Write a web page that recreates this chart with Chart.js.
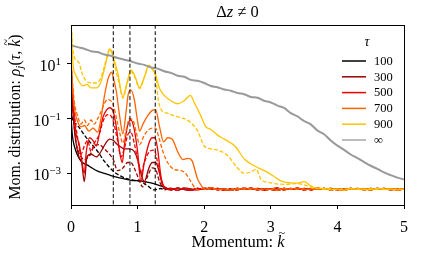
<!DOCTYPE html>
<html>
<head>
<meta charset="utf-8">
<script src="https://cdn.jsdelivr.net/npm/chart.js@4.4.1/dist/chart.umd.min.js"></script>
<style>
  html, body { margin: 0; padding: 0; background: #fff; }
</style>
</head>
<body>
<canvas id="chart" width="421" height="257"></canvas>
<script>
const SERIF = "'Liberation Serif', 'DejaVu Serif', serif";

// axis ranges and ticks
const yMin = 7.4e-5;
const yMax = 263;
const xTickValues = [0, 1, 2, 3, 4, 5];
const yTickValues = [1e-3, 1e-1, 1e1];
const yTickExps = ["\u22123", "\u22121", "1"];
const markK = [0.635, 0.885, 1.265];

const tauLabels = ["100", "300", "500", "700", "900", "\u221e"];
const tauColors = ["#000000", "#990000", "#ee0000", "#ff6400", "#ffc400", "#a6a6a6"];

// noise floor reached by every finite-tau curve
const floorK = [1.4, 1.5, 1.6, 1.7, 1.8, 1.9, 2.0, 2.1, 2.2, 2.3, 2.4, 2.5, 2.6, 2.7, 2.8, 2.9, 3.0, 3.1, 3.2, 3.3, 3.4, 3.5, 3.6, 3.7, 3.8, 3.9, 4.0, 4.1, 4.2, 4.3, 4.4, 4.5, 4.6, 4.7, 4.8, 4.9, 5.0];
const floorA = [2.8e-4, 2.5e-4, 2.9e-4, 2.6e-4, 2.4e-4, 2.8e-4, 2.6e-4, 3.0e-4, 2.5e-4, 2.7e-4, 2.4e-4, 2.8e-4, 2.6e-4, 2.9e-4, 2.5e-4, 2.7e-4, 2.6e-4, 2.4e-4, 2.8e-4, 2.6e-4, 2.9e-4, 2.5e-4, 2.7e-4, 2.6e-4, 2.8e-4, 2.5e-4, 2.7e-4, 2.4e-4, 2.8e-4, 2.6e-4, 2.7e-4, 2.5e-4, 2.8e-4, 2.6e-4, 2.7e-4, 2.5e-4, 2.7e-4];
const floorB = [2.5e-4, 2.8e-4, 2.4e-4, 2.9e-4, 2.7e-4, 2.5e-4, 2.9e-4, 2.6e-4, 2.8e-4, 2.4e-4, 2.7e-4, 2.5e-4, 2.9e-4, 2.6e-4, 2.8e-4, 2.4e-4, 2.7e-4, 2.9e-4, 2.5e-4, 2.8e-4, 2.6e-4, 2.8e-4, 2.5e-4, 2.9e-4, 2.6e-4, 2.8e-4, 2.5e-4, 2.7e-4, 2.6e-4, 2.8e-4, 2.5e-4, 2.8e-4, 2.6e-4, 2.8e-4, 2.5e-4, 2.7e-4, 2.6e-4];

// tau = 100
const k100s = [0, 0.02, 0.05, 0.1, 0.15, 0.2, 0.25, 0.3, 0.4, 0.5, 0.6, 0.7, 0.8, 0.9, 1.0, 1.1, 1.2, 1.3, 1.4];
const p100s = [0.126, 0.025, 0.01, 0.0045, 0.0028, 0.00224, 0.002, 0.00166, 0.0012, 0.001, 8.3e-4, 7.1e-4, 6.3e-4, 5.6e-4, 5.4e-4, 5.0e-4, 4.5e-4, 3.8e-4, 3.2e-4];
const k100d = [0, 0.03, 0.08, 0.11, 0.2, 0.3, 0.4, 0.5, 0.635, 0.75, 0.85, 0.95, 1.05, 1.15, 1.25, 1.35];
const p100d = [0.2, 0.079, 0.063, 0.052, 0.025, 0.0126, 0.0063, 0.0028, 0.0012, 7.9e-4, 6.3e-4, 5.6e-4, 5.0e-4, 3.5e-4, 2.5e-4, 2.8e-4];

// tau = 300
const k300s = [0, 0.03, 0.07, 0.12, 0.16, 0.2, 0.24, 0.3, 0.38, 0.45, 0.52, 0.58, 0.635, 0.7, 0.8, 0.88, 0.95, 1.0, 1.05, 1.1, 1.17, 1.22, 1.27, 1.32, 1.37, 1.42];
const p300s = [7.94, 0.158, 0.0158, 0.004, 0.0025, 5.0e-4, 0.004, 0.005, 0.004, 0.0063, 0.0126, 0.0178, 0.0158, 0.0112, 0.0079, 0.0079, 0.0063, 0.0032, 0.001, 5.0e-4, 0.00158, 0.0025, 0.0025, 0.00126, 4.0e-4, 2.8e-4];
const k300d = [0, 0.04, 0.08, 0.13, 0.2, 0.28, 0.35, 0.42, 0.5, 0.58, 0.635, 0.7, 0.78, 0.85, 0.9, 0.95, 1.0, 1.08, 1.15, 1.22, 1.27, 1.33, 1.4];
const p300d = [7.94, 0.1, 0.0126, 0.005, 0.0032, 0.0045, 0.01, 0.0112, 0.0079, 0.005, 0.0032, 0.00126, 0.00158, 0.0025, 0.0025, 0.00158, 7.9e-4, 3.2e-4, 7.9e-4, 0.00158, 0.00141, 5.0e-4, 2.8e-4];

// tau = 500
const k500s = [0, 0.02, 0.05, 0.08, 0.12, 0.16, 0.2, 0.23, 0.28, 0.33, 0.38, 0.43, 0.48, 0.53, 0.58, 0.635, 0.68, 0.73, 0.77, 0.8, 0.85, 0.9, 0.95, 1.0, 1.05, 1.1, 1.17, 1.22, 1.26, 1.3, 1.35, 1.4];
const p500s = [10, 1.0, 0.1, 0.025, 0.0126, 0.0032, 0.001, 0.0063, 0.02, 0.0158, 0.01, 0.0316, 0.112, 0.2, 0.25, 0.178, 0.05, 0.0063, 0.0025, 0.01, 0.056, 0.089, 0.04, 0.0063, 5.0e-4, 0.0025, 0.0126, 0.02, 0.02, 0.0079, 7.9e-4, 3.2e-4];
const k500d = [0, 0.05, 0.1, 0.15, 0.2, 0.25, 0.3, 0.35, 0.42, 0.48, 0.55, 0.6, 0.635, 0.7, 0.75, 0.8, 0.86, 0.9, 0.95, 1.0, 1.05, 1.1, 1.18, 1.25, 1.3, 1.35, 1.4];
const p500d = [10, 0.158, 0.02, 0.005, 0.01, 0.0158, 0.0063, 0.0126, 0.025, 0.079, 0.141, 0.126, 0.079, 0.0158, 0.004, 0.0079, 0.028, 0.0316, 0.0126, 0.0032, 0.001, 0.0025, 0.0063, 0.0071, 0.0025, 6.3e-4, 3.2e-4];

// tau = 700
const k700s = [0, 0.02, 0.05, 0.1, 0.15, 0.2, 0.27, 0.33, 0.4, 0.45, 0.5, 0.55, 0.58, 0.61, 0.635, 0.68, 0.73, 0.78, 0.82, 0.86, 0.9, 0.95, 1.0, 1.03, 1.08, 1.15, 1.22, 1.27, 1.33, 1.39, 1.45, 1.52, 1.6, 1.68, 1.76, 1.82, 1.9, 1.97];
const p700s = [15.8, 2.0, 0.25, 0.079, 0.05, 0.056, 0.035, 0.045, 0.032, 0.1, 0.63, 2.51, 3.98, 5.0, 3.16, 1.0, 0.126, 0.028, 0.126, 0.79, 1.12, 0.5, 0.079, 0.035, 0.063, 0.126, 0.2, 0.214, 0.05, 0.0141, 0.02, 0.0178, 0.0063, 0.0032, 0.00355, 0.0028, 6.3e-4, 3.2e-4];
const k700d = [0, 0.02, 0.05, 0.1, 0.15, 0.2, 0.25, 0.3, 0.35, 0.4, 0.45, 0.5, 0.55, 0.6, 0.635, 0.68, 0.73, 0.78, 0.83, 0.88, 0.93, 0.98, 1.03, 1.1, 1.17, 1.22, 1.27, 1.32, 1.38, 1.45, 1.55, 1.65, 1.72, 1.8, 1.87];
const p700d = [15.8, 2.51, 0.4, 0.126, 0.063, 0.089, 0.056, 0.089, 0.063, 0.1, 0.178, 0.355, 0.5, 0.447, 0.316, 0.112, 0.0316, 0.0126, 0.04, 0.1, 0.089, 0.0316, 0.0112, 0.025, 0.04, 0.045, 0.045, 0.02, 0.0063, 0.0025, 0.0014, 0.00126, 0.001, 5.0e-4, 2.8e-4];

// tau = 900
const k900s = [0, 0.03, 0.07, 0.12, 0.18, 0.24, 0.3, 0.38, 0.45, 0.5, 0.55, 0.58, 0.61, 0.635, 0.7, 0.78, 0.84, 0.9, 0.96, 1.03, 1.1, 1.17, 1.22, 1.27, 1.33, 1.4, 1.5, 1.6, 1.7, 1.79, 1.86, 1.95, 2.02, 2.1, 2.2, 2.31, 2.46, 2.61, 2.76, 2.96, 3.16, 3.3, 3.4, 3.5, 3.6, 3.7];
const p900s = [398, 10, 3.98, 2.24, 1.58, 1.78, 1.32, 1.32, 2.24, 6.31, 20, 35, 28, 17.8, 5.0, 0.63, 2.0, 6.0, 3.55, 1.35, 3.16, 8.9, 6.31, 3.98, 1.26, 0.71, 0.45, 0.35, 0.45, 0.71, 0.35, 0.126, 0.052, 0.04, 0.025, 0.0174, 0.01, 0.0032, 0.00186, 0.00107, 5.2e-4, 4.5e-4, 4.4e-4, 5.0e-4, 3.5e-4, 2.8e-4];
const k900d = [0, 0.03, 0.07, 0.12, 0.16, 0.22, 0.3, 0.38, 0.45, 0.5, 0.55, 0.58, 0.62, 0.66, 0.72, 0.78, 0.84, 0.9, 0.96, 1.03, 1.1, 1.17, 1.22, 1.27, 1.31, 1.36, 1.45, 1.55, 1.7, 1.8, 1.9, 2.0, 2.1, 2.2, 2.35, 2.5, 2.6, 2.7, 2.78, 2.85, 3.0, 3.2, 3.4, 3.55, 3.65];
const p900d = [398, 31.6, 14.1, 11.2, 5.0, 2.51, 2.0, 2.0, 3.16, 7.94, 22.4, 35.5, 22.4, 7.94, 2.0, 0.56, 1.78, 5.25, 3.16, 1.26, 3.16, 8.3, 7.08, 3.55, 0.5, 0.2, 0.158, 0.126, 0.1, 0.071, 0.0355, 0.01, 0.0079, 0.0071, 0.0045, 0.00158, 0.001, 0.00112, 0.00141, 6.3e-4, 4.5e-4, 4.0e-4, 4.2e-4, 3.5e-4, 2.8e-4];

// tau = infinity (noisy, read every 0.1)
const kInf = [0, 0.1, 0.2, 0.3, 0.4, 0.5, 0.6, 0.7, 0.8, 0.9, 1.0, 1.1, 1.2, 1.3, 1.4, 1.5, 1.6, 1.7, 1.8, 1.9, 2.0, 2.1, 2.2, 2.3, 2.4, 2.5, 2.6, 2.7, 2.8, 2.9, 3.0, 3.1, 3.2, 3.3, 3.4, 3.5, 3.6, 3.7, 3.8, 3.9, 4.0, 4.1, 4.2, 4.3, 4.4, 4.5, 4.6, 4.7, 4.8, 4.9, 5.0];
const pInf = [48, 41, 35.5, 29, 27, 22, 19.8, 16.4, 14.2, 12.4, 10.3, 9.2, 7.4, 6.7, 5.4, 4.7, 3.7, 3.4, 2.6, 2.4, 2.0, 1.55, 1.4, 1.15, 1.05, 0.86, 0.78, 0.62, 0.58, 0.45, 0.39, 0.3, 0.245, 0.16, 0.12, 0.082, 0.062, 0.037, 0.027, 0.016, 0.0103, 0.0072, 0.0049, 0.0036, 0.0026, 0.0019, 0.00145, 0.00108, 8.6e-4, 7.0e-4, 6.0e-4];

function series(ks, ps, floorVals) {
  const pts = ks.map((k, i) => ({ x: k, y: ps[i] }));
  if (floorVals) {
    const last = ks[ks.length - 1];
    floorK.forEach((k, i) => {
      if (k > last + 0.01) pts.push({ x: k, y: floorVals[i] });
    });
  }
  return pts;
}

function line(data, color, dash, width) {
  return {
    data,
    borderColor: color,
    borderWidth: width || 1.3,
    borderDash: dash || [],
    pointRadius: 0,
    fill: false,
    cubicInterpolationMode: "monotone",
  };
}

const DASH = [4, 2];
// listed from bottom to top
const datasets = [
  line(series(k100d, p100d, floorB), tauColors[0], DASH),
  line(series(k100s, p100s, floorA), tauColors[0]),
  line(series(k300d, p300d, floorB), tauColors[1], DASH),
  line(series(k300s, p300s, floorA), tauColors[1]),
  line(series(k500d, p500d, floorB), tauColors[2], DASH),
  line(series(k500s, p500s, floorA), tauColors[2]),
  line(series(k700d, p700d, floorB), tauColors[3], DASH),
  line(series(k700s, p700s, floorA), tauColors[3]),
  line(series(k900d, p900d, floorB), tauColors[4], DASH),
  line(series(k900s, p900s, floorA), tauColors[4]),
  line(series(kInf, pInf), "#999999", [], 2),
  ...markK.map((k) => line([{ x: k, y: yMin }, { x: k, y: yMax }], "#000000", [4, 2.5], 1)),
];
datasets.forEach((d, i) => { d.order = datasets.length - i; });

function fontFor(style, size) {
  return (style === "r" ? "" : "italic ") + size + "px " + SERIF;
}

// parts: [text, style]; r = roman, i = italic, s = italic subscript, t = italic with tilde
function drawRich(ctx, parts, cx, baseline, size) {
  const sizes = parts.map(([, s]) => (s === "s" ? size * 0.7 : size));
  const widths = parts.map(([t, s], i) => {
    ctx.font = fontFor(s, sizes[i]);
    return ctx.measureText(t).width;
  });
  let x = cx - widths.reduce((a, b) => a + b, 0) / 2;
  ctx.textAlign = "left";
  ctx.textBaseline = "alphabetic";
  parts.forEach(([t, s], i) => {
    ctx.font = fontFor(s, sizes[i]);
    ctx.fillText(t, x, s === "s" ? baseline + size * 0.22 : baseline);
    if (s === "t") {
      ctx.font = fontFor("r", size * 0.75);
      const tw = ctx.measureText("~").width;
      ctx.fillText("~", x + widths[i] / 2 - tw / 2 + size * 0.06, baseline - size * 0.62);
    }
    x += widths[i];
  });
}

const decor = {
  id: "decor",
  afterDraw(chart) {
    const ctx = chart.ctx;
    const { left, right, top, bottom } = chart.chartArea;
    const yScale = chart.scales.y;
    ctx.save();
    ctx.fillStyle = "#000";

    // frame
    ctx.strokeStyle = "#000";
    ctx.lineWidth = 1;
    ctx.strokeRect(left + 0.5, top + 0.5, right - left, bottom - top);

    // y tick labels 10^n
    yTickValues.forEach((v, i) => {
      const py = yScale.getPixelForValue(v);
      ctx.textAlign = "left";
      ctx.textBaseline = "alphabetic";
      ctx.font = fontFor("r", 11);
      const we = ctx.measureText(yTickExps[i]).width;
      ctx.fillText(yTickExps[i], 61 - we, py + 1);
      ctx.font = fontFor("r", 16);
      const wb = ctx.measureText("10").width;
      ctx.fillText("10", 61 - we - wb, py + 7);
    });

    // title
    drawRich(ctx, [["\u0394", "r"], ["z", "i"], [" \u2260 ", "r"], ["0", "r"]], (left + right) / 2, 16.5, 16.5);

    // x axis title
    drawRich(ctx, [["Momentum: ", "r"], ["k", "t"]], 238, 247, 16.5);

    // y axis title
    ctx.save();
    ctx.translate(15, (top + bottom) / 2 + 2);
    ctx.rotate(-Math.PI / 2);
    drawRich(ctx, [["Mom. distribution: ", "r"], ["\u03c1", "i"], ["j", "s"], ["(", "r"], ["\u03c4", "i"], [", ", "r"], ["k", "t"], [")", "r"]], 0, 5, 15.8);
    ctx.restore();

    // legend
    drawRich(ctx, [["\u03c4", "i"]], 367, 46, 14);
    tauLabels.forEach((label, i) => {
      const ly = 61 + i * 15.8;
      ctx.strokeStyle = tauColors[i];
      ctx.lineWidth = 1.5;
      ctx.beginPath();
      ctx.moveTo(342, ly);
      ctx.lineTo(366, ly);
      ctx.stroke();
      ctx.font = fontFor("r", 12.5);
      ctx.textAlign = "left";
      ctx.textBaseline = "middle";
      ctx.fillText(label, 374, ly + 0.5);
    });
    ctx.restore();
  },
};

new Chart(document.getElementById("chart"), {
  type: "line",
  data: { datasets },
  options: {
    responsive: false,
    animation: false,
    devicePixelRatio: 1,
    layout: { padding: { top: 25, right: 17, left: 0, bottom: 0 } },
    plugins: {
      legend: { display: false },
      tooltip: { enabled: false },
      title: { display: false },
    },
    scales: {
      x: {
        type: "linear",
        min: 0,
        max: 5,
        afterBuildTicks: (s) => { s.ticks = xTickValues.map((v) => ({ value: v })); },
        afterFit: (s) => { s.height = 52; },
        ticks: { color: "#000", font: { family: SERIF, size: 16 }, padding: 9, maxRotation: 0 },
        grid: { drawOnChartArea: false, drawTicks: true, tickLength: 4, color: "#000" },
        border: { display: false },
      },
      y: {
        type: "logarithmic",
        min: yMin,
        max: yMax,
        afterBuildTicks: (s) => { s.ticks = yTickValues.map((v) => ({ value: v })); },
        afterFit: (s) => { s.width = 71; },
        ticks: { display: false },
        grid: { drawOnChartArea: false, drawTicks: true, tickLength: 4, color: "#000" },
        border: { display: false },
      },
    },
  },
  plugins: [decor],
});
</script>
</body>
</html>
